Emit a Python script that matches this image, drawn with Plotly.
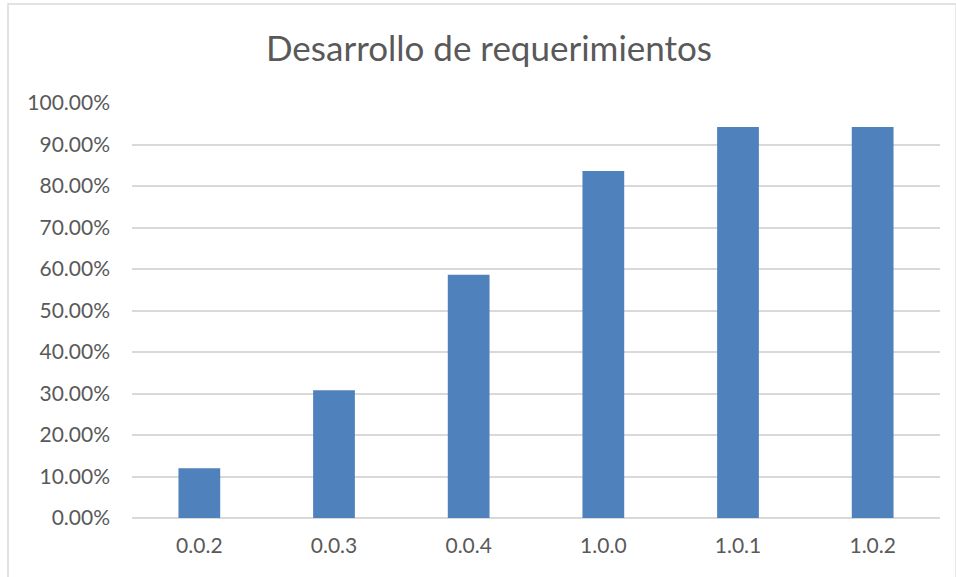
import plotly.graph_objects as go

categories = ["0.0.2", "0.0.3", "0.0.4", "1.0.0", "1.0.1", "1.0.2"]
values = [0.12, 0.308, 0.586, 0.836, 0.942, 0.942]
y_ticks = [i / 10 for i in range(11)]
y_tick_labels = [f"{v*100:.2f}%" for v in y_ticks]

title_text = "Desarrollo de requerimientos"

fig = go.Figure(
    go.Bar(
        x=categories,
        y=values,
        marker=dict(color="#4F81BD", line=dict(width=0)),
        width=0.31,
    )
)

fig.update_layout(
    width=956,
    height=577,
    paper_bgcolor="white",
    plot_bgcolor="white",
    margin=dict(l=132, r=16, t=103, b=59),
    showlegend=False,
    font=dict(family="Lato, Open Sans, sans-serif", color="#595959", size=21),
    title=dict(
        text=title_text,
        x=489 / 956,
        xref="container",
        xanchor="center",
        y=1 - 49 / 577,
        yref="container",
        yanchor="middle",
        font=dict(size=35, color="#595959", family="Lato, Open Sans, sans-serif"),
    ),
    shapes=[
        dict(
            type="rect",
            xref="paper",
            yref="paper",
            x0=-124 / 808,
            x1=1.02,
            y0=-1.0,
            y1=1 + 99 / 415,
            line=dict(color="#D9D9D9", width=1.5),
            fillcolor="rgba(0,0,0,0)",
            layer="below",
        )
    ],
)

fig.update_xaxes(
    showgrid=False,
    showline=False,
    ticks="",
    tickfont=dict(size=21, color="#595959"),
    ticklabelstandoff=13,
)
fig.update_yaxes(
    range=[0, 1],
    tickvals=y_ticks,
    ticktext=y_tick_labels,
    showgrid=True,
    gridcolor="#D9D9D9",
    gridwidth=1.5,
    zeroline=True,
    zerolinecolor="#D9D9D9",
    zerolinewidth=1.5,
    ticks="",
    tickfont=dict(size=21, color="#595959"),
    ticklabelstandoff=21,
)

fig.write_html("out.html")
